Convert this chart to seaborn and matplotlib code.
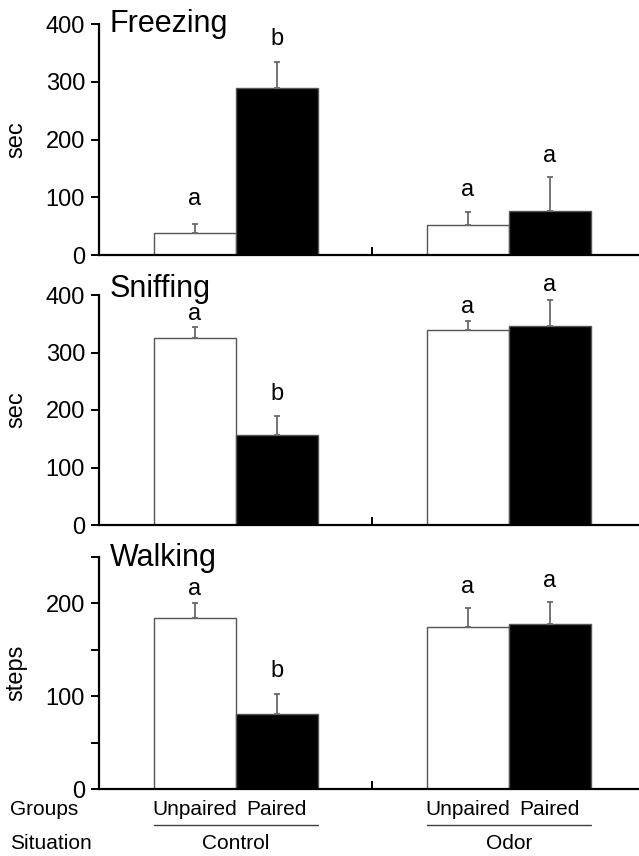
import pandas as pd
import matplotlib.pyplot as plt
import matplotlib.transforms as mtransforms
import seaborn as sns

# Values (order: Control-Unpaired, Control-Paired, Odor-Unpaired, Odor-Paired)
situations = ['Control', 'Odor']
groups = ['Unpaired', 'Paired']

freezing_mean = [38, 289, 52, 76]
freezing_err = [15, 46, 23, 59]
freezing_letters = ['a', 'b', 'a', 'a']
freezing_letter_y = [86, 363, 103, 161]

sniffing_mean = [326, 157, 340, 346]
sniffing_err = [18, 32, 15, 46]
sniffing_letters = ['a', 'b', 'a', 'a']
sniffing_letter_y = [356, 217, 369, 407]

walking_mean = [184, 81, 175, 178]
walking_err = [16, 21, 20, 24]
walking_letters = ['a', 'b', 'a', 'a']
walking_letter_y = [209, 121, 211, 218]

sns.set_style('ticks')
plt.rcParams['font.family'] = ['Liberation Sans', 'DejaVu Sans']
plt.rcParams.update({
    'text.color': 'black',
    'axes.labelcolor': 'black',
    'axes.edgecolor': 'black',
    'xtick.color': 'black',
    'ytick.color': 'black',
})

fig = plt.figure(figsize=(6.39, 8.56), dpi=100)

left = 99 / 639
width = 1 - left
H = 856
panels = [
    ('Freezing', 'sec', freezing_mean, freezing_err, freezing_letters, freezing_letter_y,
     (24, 255), 400, 7.7),
    ('Sniffing', 'sec', sniffing_mean, sniffing_err, sniffing_letters, sniffing_letter_y,
     (295, 525), 400, 1.7),
    ('Walking', 'steps', walking_mean, walking_err, walking_letters, walking_letter_y,
     (557, 789), 250, 9.0),
]

axes = []
bar_sets = []
for title, ylab, means, errs, letters, letter_y, (top, bot), ymax, title_drop in panels:
    ax = fig.add_axes([left, 1 - bot / H, width, (bot - top) / H])
    df = pd.DataFrame({
        'situation': [s for s in situations for g in groups],
        'group': [g for s in situations for g in groups],
        'value': means,
    })
    sns.barplot(data=df, x='situation', y='value', hue='group', order=situations,
                hue_order=groups, palette=['white', 'black'], width=0.6, gap=0,
                errorbar=None, edgecolor='#555555', linewidth=1, legend=False, ax=ax)
    bars = [list(c) for c in ax.containers]  # one list per hue level

    for h, cont in enumerate(bars):
        for s, bar in enumerate(cont):
            i = s * 2 + h
            xc = bar.get_x() + bar.get_width() / 2
            ax.errorbar([xc], [means[i]], yerr=[[0], [errs[i]]], fmt='none',
                        ecolor='#6a6a6a', elinewidth=1.3, capsize=2, capthick=1.3,
                        zorder=3)
            ax.text(xc, letter_y[i], letters[i], ha='center', va='baseline',
                    fontsize=17, clip_on=False)

    ax.set_xlim(-0.5, 1.477)
    ax.set_ylim(0, ymax)
    if ymax == 400:
        ax.set_yticks([0, 100, 200, 300, 400])
    else:
        ax.set_yticks([0, 100, 200])
        ax.set_yticks([50, 150, 250], minor=True)
    ax.set_xticks([0.5])
    ax.set_xticklabels([])
    ax.set_xlabel('')
    ax.set_ylabel(ylab, fontsize=17, va='center')
    ax.yaxis.set_label_coords((16.5 - 99) / 540, 0.5)
    ax.tick_params(axis='y', which='both', direction='out', length=6, width=1.4,
                   labelsize=17, pad=4)
    ax.tick_params(axis='x', direction='in', length=6, width=1.4)
    sns.despine(ax=ax, top=True, right=True)
    ax.spines['left'].set_linewidth(1.6)
    ax.spines['bottom'].set_linewidth(1.6)
    ax.text(11 / 540, 1 - title_drop / (bot - top), title, transform=ax.transAxes,
            ha='left', va='baseline', fontsize=22)
    axes.append(ax)
    bar_sets.append(bars)

# group / situation labels beneath the bottom panel
ax = axes[-1]
bars = bar_sets[-1]
trans = mtransforms.blended_transform_factory(ax.transData, fig.transFigure)
y_groups = 1 - 815 / H
y_line = 1 - 825 / H
y_sit = 1 - 849 / H
fig.text(10 / 639, y_groups, 'Groups', ha='left', va='baseline', fontsize=15)
fig.text(10 / 639, y_sit, 'Situation', ha='left', va='baseline', fontsize=15)
for s, sit in enumerate(situations):
    b0 = bars[0][s]
    b1 = bars[1][s]
    for bar, g in zip((b0, b1), groups):
        ax.text(bar.get_x() + bar.get_width() / 2, y_groups, g, transform=trans,
                ha='center', va='baseline', fontsize=15, clip_on=False)
    x0 = b0.get_x()
    x1 = b1.get_x() + b1.get_width()
    ax.plot([x0, x1], [y_line, y_line], transform=trans, color='#404040', lw=1,
            clip_on=False)
    ax.text((x0 + x1) / 2, y_sit, sit, transform=trans, ha='center', va='baseline',
            fontsize=15, clip_on=False)

fig.savefig('out.png', dpi=100)
